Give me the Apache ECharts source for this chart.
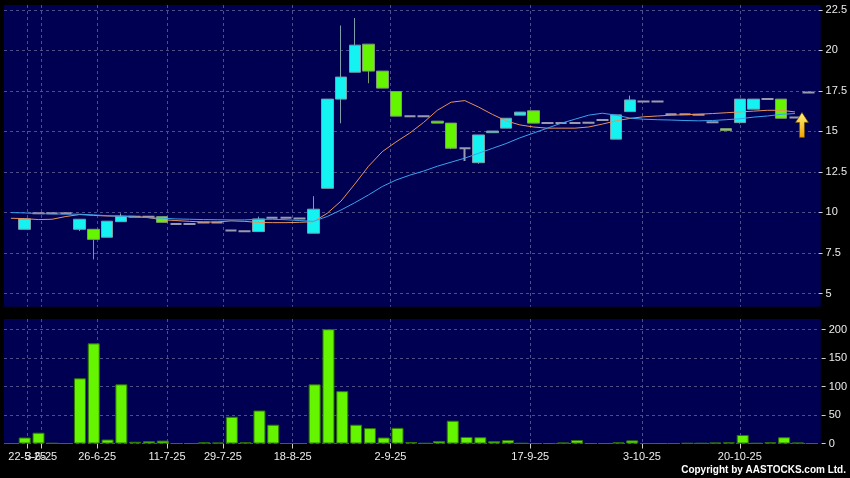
<!DOCTYPE html>
<html>
<head>
<meta charset="utf-8">
<script src="https://cdn.jsdelivr.net/npm/echarts@6/dist/echarts.min.js"></script>
<style>
html,body{margin:0;padding:0;background:#000;}
#c{width:850px;height:478px;}
</style>
</head>
<body>
<div id="c"></div>
<script>
const dates = ['21-5-25','22-5-25','3-6-25','5-6-25','10-6-25','19-6-25','26-6-25','27-6-25','30-6-25','3-7-25',
 '8-7-25','11-7-25','15-7-25','18-7-25','23-7-25','29-7-25','31-7-25','5-8-25','7-8-25','8-8-25',
 '18-8-25','21-8-25','25-8-25','26-8-25','27-8-25','28-8-25','29-8-25','2-9-25','3-9-25','4-9-25',
 '5-9-25','8-9-25','9-9-25','10-9-25','11-9-25','12-9-25','15-9-25','17-9-25','18-9-25','19-9-25',
 '22-9-25','23-9-25','25-9-25','26-9-25','30-9-25','3-10-25','6-10-25','8-10-25','9-10-25','10-10-25',
 '13-10-25','15-10-25','20-10-25','21-10-25','22-10-25','23-10-25','24-10-25','27-10-25','28-10-25'];

// tick labels (the first two overlap in the original, so they are drawn on separate axes)
const tickLabels = ['22-5-25','3-6-25','26-6-25','11-7-25','29-7-25','18-8-25','2-9-25','17-9-25','3-10-25','20-10-25'];
const overlapLabels = ['3-6-25'];

const opens = [null,8.96,9.95,9.95,9.95,8.96,8.96,8.47,9.43,9.74,9.74,9.74,9.29,9.29,9.38,9.38,8.88,8.84,8.82,9.68,9.68,9.62,8.72,11.49,16.99,18.65,20.38,18.72,17.46,15.94,15.94,15.63,15.51,13.96,13.07,14.92,15.20,16.00,16.27,15.51,15.51,15.51,15.54,15.71,14.52,16.22,16.84,16.84,16.05,16.05,16.02,15.57,15.17,15.54,16.37,16.99,16.99,15.85,17.40];
const closes = [null,9.60,9.95,9.95,9.95,9.58,8.34,9.46,9.76,9.74,9.74,9.39,9.29,9.29,9.38,9.38,8.88,8.84,9.60,9.68,9.68,9.62,10.20,16.99,18.35,20.32,18.72,17.67,15.94,15.94,15.94,15.51,13.96,13.96,14.78,15.02,15.81,16.19,15.51,15.51,15.51,15.51,15.54,15.71,16.02,16.94,16.84,16.84,16.05,16.05,16.02,15.57,15.05,16.99,16.99,16.99,15.81,15.85,17.40];
const lows = [null,8.96,9.95,9.95,9.95,8.85,7.10,8.47,9.43,9.74,9.74,9.39,9.29,9.29,9.38,9.38,8.88,8.84,8.82,9.68,9.68,9.62,8.72,11.49,15.50,18.65,17.97,17.67,15.94,15.94,15.94,15.51,13.90,13.18,13.00,14.92,15.20,16.00,15.51,15.51,15.51,15.51,15.54,15.71,14.52,16.22,16.84,16.84,16.05,16.05,16.02,15.57,15.05,15.48,16.37,16.99,15.81,15.85,17.40];
const highs = [null,9.60,9.95,9.95,9.95,9.58,8.96,9.46,9.94,9.74,9.74,9.74,9.29,9.29,9.38,9.38,8.88,8.84,9.74,9.68,9.68,9.62,11.00,16.99,21.53,21.99,20.38,18.72,17.46,15.94,15.94,15.63,15.51,13.96,14.78,15.02,15.81,16.19,16.27,15.51,15.51,15.51,15.54,15.71,16.02,17.21,16.84,16.84,16.05,16.05,16.02,15.57,15.17,16.99,16.99,16.99,16.99,15.85,17.40];

const volumes = [0,10.5,19,0.5,0,114.6,176,7,104,3,4,5,0,0,2,1.5,47,2,58,33,0,0,104,207,92,33,27,10.5,27.5,2.5,0.5,4.5,40,11.5,11,4,6,0.5,0,0,1.5,6,0,0,2,5.5,0,0,0,0.5,0.5,1.5,2,15,0.5,2,11,1.5,0];

const ma10 = [9.64,9.62,9.56,9.58,9.75,9.87,9.82,9.78,9.78,9.76,9.68,9.55,9.50,9.45,9.41,9.41,9.48,9.45,9.38,9.37,9.37,9.39,9.43,9.95,10.70,11.75,12.85,13.75,14.35,14.90,15.55,16.30,16.80,16.90,16.50,16.05,15.65,15.40,15.27,15.20,15.20,15.20,15.27,15.45,15.65,15.80,15.90,15.95,16.00,16.03,16.06,16.10,16.15,16.20,16.25,16.30,16.30,16.20,null];
const ma20 = [9.99,9.97,9.93,9.91,9.90,9.89,9.85,9.80,9.76,9.72,9.68,9.64,9.60,9.58,9.56,9.55,9.54,9.54,9.58,9.58,9.55,9.50,9.45,9.75,10.15,10.60,11.08,11.60,12.00,12.30,12.55,12.85,13.10,13.35,13.65,13.95,14.25,14.60,14.90,15.20,15.50,15.75,16.00,16.12,16.00,15.82,15.75,15.72,15.70,15.67,15.65,15.67,15.72,15.78,15.88,15.95,16.05,16.10,null];

const arrowMark = ['27-10-25', 15.4];

const NAVY = '#000052';
const GRIDC = '#4e4e88';
const UP = '#14f2f2', DOWN = '#66f500', DOJI = '#9a9aae';
const FONT = 'Liberation Sans';

const candleData = dates.map((d, i) => {
  if (opens[i] == null) return '-';
  const v = [opens[i], closes[i], lows[i], highs[i]];
  if (opens[i] === closes[i]) {
    return {value: v, itemStyle: {color: DOJI, color0: DOJI, borderColor: DOJI, borderColor0: DOJI, borderColorDoji: DOJI, borderWidth: 2}};
  }
  return v;
});

const isTick = (idx) => tickLabels.indexOf(dates[idx]) >= 0;
const isMainLabel = (idx) => isTick(idx) && overlapLabels.indexOf(dates[idx]) < 0;
const isOverlapLabel = (idx) => overlapLabels.indexOf(dates[idx]) >= 0;

const labelGridGeom = {left: 13.3, width: 810.3, top: 319, height: 124.5};

const chart = echarts.init(document.getElementById('c'), null, {renderer: 'canvas'});
chart.setOption({
  animation: false,
  backgroundColor: '#000',
  textStyle: {fontFamily: FONT},
  graphic: [
    {type: 'rect', z: -10, silent: true, shape: {x: 4, y: 5, width: 816.7, height: 301.7}, style: {fill: NAVY}},
    {type: 'rect', z: -10, silent: true, shape: {x: 4, y: 319, width: 816.7, height: 124.5}, style: {fill: NAVY}},
    {type: 'text', z: 10, silent: true, right: 4, top: 465,
     style: {text: 'Copyright by AASTOCKS.com Ltd.', fill: '#ffffff', font: 'bold 10px "Liberation Sans"'}}
  ],
  grid: [
    {left: 4, width: 816.7, top: 9.8, height: 283.7},
    {left: 4, width: 816.7, top: 329.7, height: 113.8},
    {left: 13.3, width: 810.3, top: 5, height: 301.7},
    Object.assign({}, labelGridGeom),
    Object.assign({}, labelGridGeom)
  ],
  xAxis: [
    {type: 'category', gridIndex: 0, data: dates, boundaryGap: true, show: false},
    {type: 'category', gridIndex: 1, data: dates, boundaryGap: true, show: false},
    {type: 'category', gridIndex: 2, data: dates, boundaryGap: false,
     axisLine: {show: false}, axisTick: {show: false}, axisLabel: {show: false},
     splitLine: {show: true, interval: (i) => isTick(i), lineStyle: {color: GRIDC, type: [3, 3], width: 1}}},
    {type: 'category', gridIndex: 3, data: dates, boundaryGap: false,
     axisLine: {show: false},
     axisTick: {show: true, interval: (i) => isTick(i), length: 5, lineStyle: {color: '#d0d0d0'}},
     axisLabel: {show: true, interval: (i) => isMainLabel(i), hideOverlap: false,
                 color: '#ececec', fontSize: 11, margin: 8, fontFamily: FONT},
     splitLine: {show: true, interval: (i) => isTick(i), lineStyle: {color: GRIDC, type: [3, 3], width: 1}}},
    {type: 'category', gridIndex: 4, data: dates, boundaryGap: false,
     axisLine: {show: false}, axisTick: {show: false}, splitLine: {show: false},
     axisLabel: {show: true, interval: (i) => isOverlapLabel(i), hideOverlap: false,
                 color: '#ececec', fontSize: 11, margin: 8, fontFamily: FONT}}
  ],
  yAxis: [
    {type: 'value', gridIndex: 0, position: 'right', min: 5, max: 22.5, interval: 2.5, offset: 3,
     axisLine: {show: false}, axisTick: {show: true, length: 4, lineStyle: {color: '#d0d0d0'}},
     axisLabel: {color: '#ececec', fontSize: 11, margin: 7, fontFamily: FONT},
     splitLine: {show: true, lineStyle: {color: GRIDC, type: [3, 3], width: 1}}},
    {type: 'value', gridIndex: 1, position: 'right', min: 0, max: 200, interval: 50, offset: 3,
     axisLine: {show: false}, axisTick: {show: true, length: 4, lineStyle: {color: '#d0d0d0'}},
     axisLabel: {color: '#ececec', fontSize: 11, margin: 7, fontFamily: FONT},
     splitLine: {show: true, lineStyle: {color: GRIDC, type: [3, 3], width: 1}}},
    {type: 'value', gridIndex: 2, show: false},
    {type: 'value', gridIndex: 3, show: false},
    {type: 'value', gridIndex: 4, show: false}
  ],
  series: [
    {type: 'candlestick', xAxisIndex: 0, yAxisIndex: 0, barWidth: 12, data: candleData, z: 3,
     itemStyle: {color: UP, color0: DOWN, borderColor: '#7c9eaa', borderColor0: '#7e9c72', borderColorDoji: DOJI, borderWidth: 1},
     markPoint: {
       silent: true,
       symbol: 'path://M6.5,0 L13,10 L9,10 L9,25 L4,25 L4,10 L0,10 Z',
       symbolSize: [13, 25], symbolOffset: [7, 0],
       label: {show: false},
       itemStyle: {color: new echarts.graphic.LinearGradient(0, 0, 0, 1, [{offset: 0, color: '#fff27a'}, {offset: 1, color: '#f0a400'}]), borderColor: '#6a4a00', borderWidth: 0.6},
       data: [{coord: arrowMark}]
     }},
    {type: 'line', xAxisIndex: 0, yAxisIndex: 0, data: ma10, showSymbol: false, z: 4,
     lineStyle: {color: '#e8925a', width: 1}},
    {type: 'line', xAxisIndex: 0, yAxisIndex: 0, data: ma20, showSymbol: false, z: 4,
     lineStyle: {color: '#3aa2ee', width: 1}},
    {type: 'bar', xAxisIndex: 1, yAxisIndex: 1, data: volumes, barWidth: 12,
     itemStyle: {color: '#66f500', borderColor: '#2e7800', borderWidth: 1}}
  ]
});
</script>
</body>
</html>
